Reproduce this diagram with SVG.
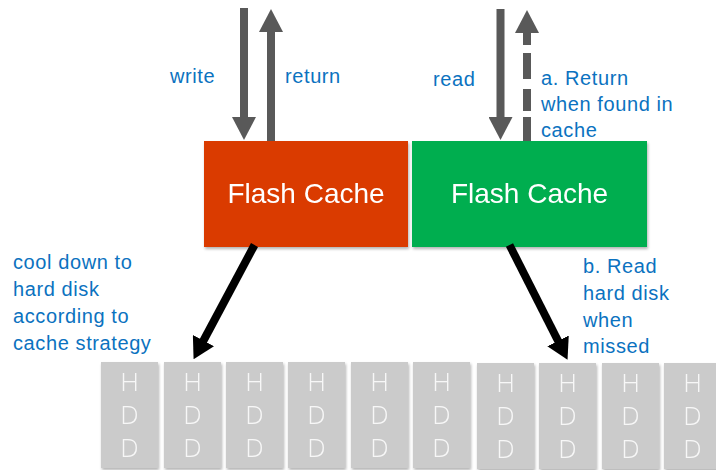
<svg xmlns="http://www.w3.org/2000/svg" width="716" height="470" viewBox="0 0 716 470">
<style>
.lbl{font-family:"Liberation Sans",Arial,sans-serif;font-size:20px;letter-spacing:0.6px;fill:#0B72C0}
.fc{font-family:"Liberation Sans",Arial,sans-serif;font-size:28px;fill:#ffffff;text-anchor:middle}
.hdd rect{fill:#CBCBCB}
.hdd text{font-family:"Open Sans","Liberation Sans",Arial,sans-serif;font-weight:300;font-size:26px;fill:#F7F7F7;text-anchor:middle}
.g{stroke:#595959;stroke-width:8;fill:none}
.k{stroke:#000000;stroke-width:8;fill:none}
</style>
<defs>
<filter id="sh" x="-10%" y="-10%" width="130%" height="130%">
<feGaussianBlur in="SourceAlpha" stdDeviation="1.5"/>
<feOffset dx="1" dy="2" result="b"/>
<feComponentTransfer><feFuncA type="linear" slope="0.3"/></feComponentTransfer>
<feMerge><feMergeNode/><feMergeNode in="SourceGraphic"/></feMerge>
</filter>
<marker id="ag" markerUnits="userSpaceOnUse" viewBox="0 0 23 24" markerWidth="23" markerHeight="24" refX="1" refY="12" orient="auto">
<path d="M0,0 L23,12 L0,24 z" fill="#595959"/>
</marker>
<marker id="ak" markerUnits="userSpaceOnUse" viewBox="0 0 21 24" markerWidth="21" markerHeight="24" refX="1" refY="12" orient="auto">
<path d="M0,0 L21,12 L0,24 z" fill="#000000"/>
</marker>
</defs>
<rect width="716" height="470" fill="#ffffff"/>

<g id="cache-write" filter="url(#sh)">
<rect x="204" y="141" width="204" height="106" fill="#DA3B00"/>
<text class="fc" x="306" y="203">Flash Cache</text>
</g>
<g id="cache-read" filter="url(#sh)">
<rect x="412" y="141" width="235" height="106" fill="#00AE50"/>
<text class="fc" x="529.5" y="203">Flash Cache</text>
</g>

<g id="hdds" class="hdd">
<g id="hdd1" filter="url(#sh)"><rect x="101" y="362" width="57" height="106"/><text x="129.5" y="391">H</text><text x="129.5" y="424">D</text><text x="129.5" y="457">D</text></g>
<g id="hdd2" filter="url(#sh)"><rect x="164" y="362" width="57" height="106"/><text x="192.5" y="391">H</text><text x="192.5" y="424">D</text><text x="192.5" y="457">D</text></g>
<g id="hdd3" filter="url(#sh)"><rect x="226" y="362" width="57" height="106"/><text x="254.5" y="391">H</text><text x="254.5" y="424">D</text><text x="254.5" y="457">D</text></g>
<g id="hdd4" filter="url(#sh)"><rect x="288" y="362" width="57" height="106"/><text x="316.5" y="391">H</text><text x="316.5" y="424">D</text><text x="316.5" y="457">D</text></g>
<g id="hdd5" filter="url(#sh)"><rect x="351" y="362" width="57" height="106"/><text x="379.5" y="391">H</text><text x="379.5" y="424">D</text><text x="379.5" y="457">D</text></g>
<g id="hdd6" filter="url(#sh)"><rect x="413" y="362" width="57" height="106"/><text x="441.5" y="391">H</text><text x="441.5" y="424">D</text><text x="441.5" y="457">D</text></g>
<g id="hdd7" filter="url(#sh)"><rect x="477" y="363" width="57" height="106"/><text x="505.5" y="392">H</text><text x="505.5" y="425">D</text><text x="505.5" y="458">D</text></g>
<g id="hdd8" filter="url(#sh)"><rect x="539" y="363" width="57" height="106"/><text x="567.5" y="392">H</text><text x="567.5" y="425">D</text><text x="567.5" y="458">D</text></g>
<g id="hdd9" filter="url(#sh)"><rect x="602" y="363" width="57" height="106"/><text x="630.5" y="392">H</text><text x="630.5" y="425">D</text><text x="630.5" y="458">D</text></g>
<g id="hdd10" filter="url(#sh)"><rect x="664" y="363" width="57" height="106"/><text x="692.5" y="392">H</text><text x="692.5" y="425">D</text><text x="692.5" y="458">D</text></g>
</g>

<g id="connectors">
<line class="g" x1="244" y1="8" x2="244" y2="118" marker-end="url(#ag)"/>
<line class="g" x1="271" y1="141" x2="271" y2="31" marker-end="url(#ag)"/>
<line class="g" x1="500.5" y1="9" x2="500.5" y2="118" marker-end="url(#ag)"/>
<line class="g" x1="527" y1="141" x2="527" y2="32" stroke-dasharray="24 6 22 10 26 8 14" marker-end="url(#ag)"/>
<line class="k" x1="254.5" y1="245" x2="203" y2="341.5" marker-end="url(#ak)"/>
<line class="k" x1="509.5" y1="245" x2="558.5" y2="341.8" marker-end="url(#ak)"/>
</g>

<g id="labels">
<text class="lbl" x="170" y="83">write</text>
<text class="lbl" x="285" y="83">return</text>
<text class="lbl" x="433" y="86">read</text>
<text class="lbl" x="541" y="85">a. Return</text>
<text class="lbl" x="541" y="111">when found in</text>
<text class="lbl" x="541" y="137">cache</text>
<text class="lbl" x="13" y="269">cool down to</text>
<text class="lbl" x="13" y="296">hard disk</text>
<text class="lbl" x="13" y="323">according to</text>
<text class="lbl" x="13" y="350">cache strategy</text>
<text class="lbl" x="583" y="273">b. Read</text>
<text class="lbl" x="583" y="300">hard disk</text>
<text class="lbl" x="583" y="327">when</text>
<text class="lbl" x="583" y="353">missed</text>
</g>
</svg>
